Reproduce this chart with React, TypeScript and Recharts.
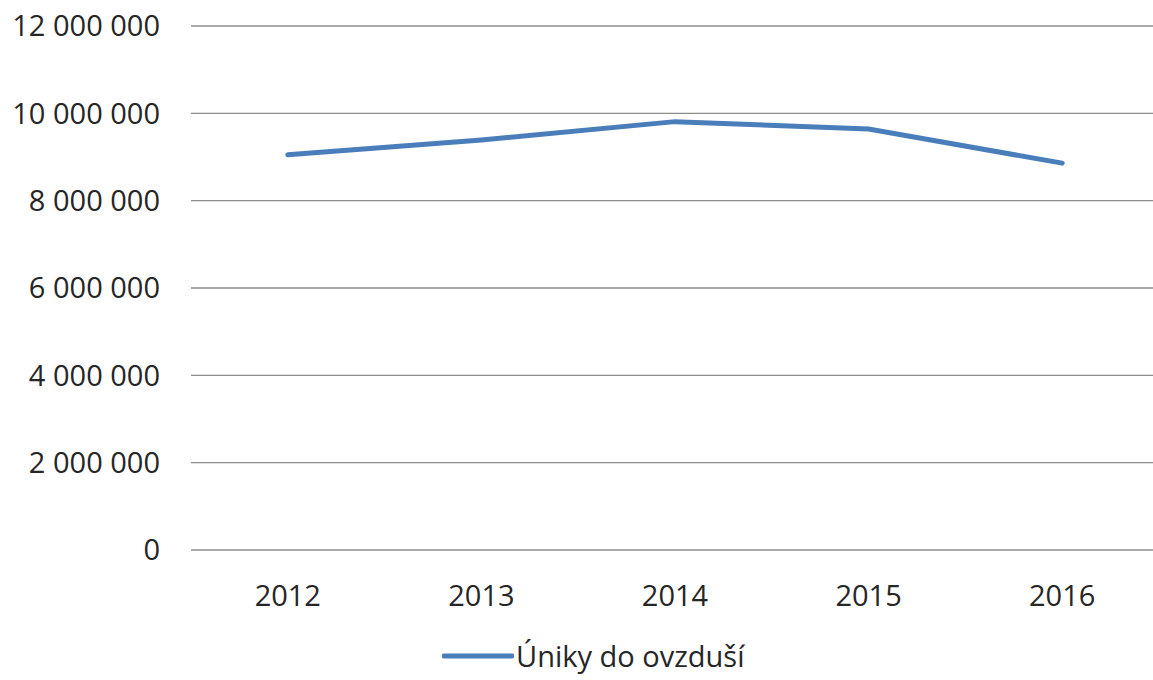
import { LineChart, Line, CartesianGrid, XAxis, YAxis, Legend } from "recharts";

const years = ["2012", "2013", "2014", "2015", "2016"];
const emissions = [9050000, 9390000, 9810000, 9640000, 8860000];
const yTicks = [0, 2000000, 4000000, 6000000, 8000000, 10000000, 12000000];
const seriesName = "Úniky do ovzduší";

const data = years.map((year, i) => ({ year, value: emissions[i] }));

const font = "'Open Sans', 'Noto Sans', sans-serif";
const textColor = "#262626";
const lineColor = "#4a7ebb";

const fmt = (v: number) => String(v).replace(/\B(?=(\d{3})+(?!\d))/g, " ");

const LegendContent = () => (
  <div
    style={{
      display: "flex",
      alignItems: "center",
      fontFamily: font,
      fontSize: 29,
      lineHeight: "36px",
      color: textColor,
    }}
  >
    <svg width={72} height={10} style={{ marginRight: 2 }}>
      <line x1={2} y1={5} x2={70} y2={5} stroke={lineColor} strokeWidth={5} strokeLinecap="round" />
    </svg>
    <span>{seriesName}</span>
  </div>
);

export default function App() {
  return (
    <div style={{ position: "absolute", left: 0, top: 0, width: 1153, height: 680, overflow: "hidden", background: "#fff" }}>
      <LineChart
        width={1153}
        height={680}
        data={data}
        margin={{ top: 26, right: -6, bottom: 0, left: 0 }}
        style={{ overflow: "hidden" }}
      >
        <CartesianGrid vertical={false} stroke="#8c8c8c" strokeWidth={1.3} />
        <XAxis
          dataKey="year"
          scale="band"
          axisLine={false}
          tickLine={false}
          tickSize={0}
          tickMargin={35}
          height={90}
          tick={{ fontFamily: font, fontSize: 29, fill: textColor }}
        />
        <YAxis
          domain={[0, 12000000]}
          ticks={yTicks}
          tickFormatter={fmt}
          axisLine={false}
          tickLine={false}
          tickSize={0}
          tickMargin={31}
          width={191}
          tick={{ fontFamily: font, fontSize: 29, fill: textColor }}
        />
        <Legend
          verticalAlign="bottom"
          height={40}
          content={<LegendContent />}
          wrapperStyle={{ left: 442, bottom: 2, width: "auto" }}
        />
        <Line
          type="linear"
          dataKey="value"
          name={seriesName}
          stroke={lineColor}
          strokeWidth={5}
          strokeLinecap="round"
          dot={false}
          activeDot={false}
          isAnimationActive={false}
        />
      </LineChart>
    </div>
  );
}
